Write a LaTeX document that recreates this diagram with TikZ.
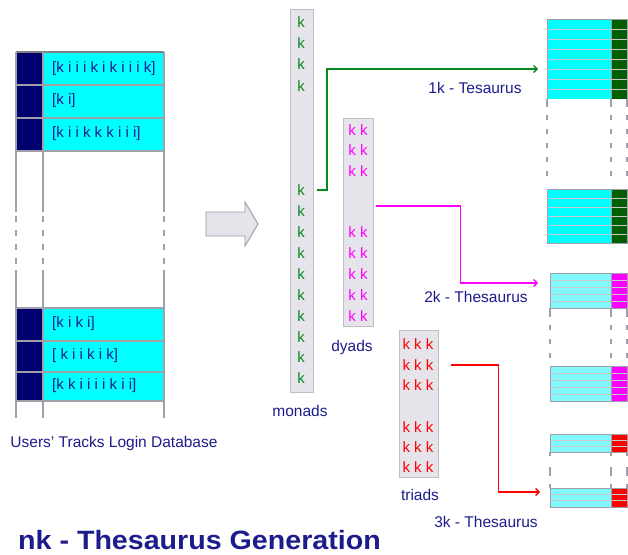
\documentclass[tikz,border=0pt]{standalone}
\usepackage{fontspec}
\setmainfont{Liberation Sans}
\usetikzlibrary{arrows.meta,calc}

\definecolor{ink}{RGB}{28,28,140}
\definecolor{navycol}{RGB}{0,0,110}
\definecolor{cyanfill}{RGB}{0,255,255}
\definecolor{palecyan}{RGB}{130,248,252}
\definecolor{gridgray}{RGB}{160,160,168}
\definecolor{rowgray}{RGB}{200,200,205}
\definecolor{colfill}{RGB}{228,228,234}
\definecolor{colline}{RGB}{190,190,196}
\definecolor{kgreen}{RGB}{10,135,30}
\definecolor{kmag}{RGB}{255,0,255}
\definecolor{kred}{RGB}{255,0,0}
\definecolor{tgreen}{RGB}{0,95,0}

\tikzset{
  lbl/.style={text=ink, font=\fontsize{15.5}{18}\selectfont, inner sep=0pt},
  rowtxt/.style={text=ink, font=\fontsize{15}{18}\selectfont, inner sep=0pt, anchor=west},
  kcol/.style={draw=colline, fill=colfill, inner sep=0pt, line width=0.8pt},
  ktxt/.style={font=\fontsize{15}{18}\selectfont, inner sep=0pt},
  conn/.style={line width=1.3pt, -{Straight Barb[length=3.5pt,width=7pt]}},
  gridline/.style={draw=gridgray, line width=1.1pt},
  gap/.style={draw=gridgray, line width=1.1pt, dash pattern=on 6pt off 8pt},
  rowline/.style={draw=rowgray, line width=0.9pt},
  blockedge/.style={draw=gridgray, line width=1pt},
}

\begin{document}
\begin{tikzpicture}[x=1pt,y=-1pt]
\useasboundingbox (0,0) rectangle (628,554);

% ---------- users' tracks login database ----------
\fill[navycol] (16,52) rectangle (43,151);
\fill[navycol] (16,308) rectangle (43,401);
\fill[cyanfill] (43,52) rectangle (164,151);
\fill[cyanfill] (43,308) rectangle (164,401);
\foreach \y in {52,85,118,151,308,341,372,401}
  \draw[gridline] (16,\y) -- (164,\y);
\draw[draw=gray, line width=1.4pt] (16,52) -- (164,52);
\foreach \x in {16,43,164} {
  \draw[gridline] (\x,52) -- (\x,212);
  \draw[gap] (\x,216) -- (\x,268);
  \draw[gridline] (\x,270) -- (\x,418);
}
\node[rowtxt] (r1) at (52,69)  {[k i i i k i k i i i k]};
\node[rowtxt] (r2) at (52,101) {[k i]};
\node[rowtxt] (r3) at (52,134) {[k i i k k k i i i]};
\node[rowtxt] (r4) at (52,324) {[k i k i]};
\node[rowtxt] (r5) at (52,356) {[ k i i k i k]};
\node[rowtxt] (r6) at (52,386) {[k k i i i i k i i]};
\node[lbl] (dblabel) at (114,443) {Users' Tracks Login Database};

% ---------- block arrow ----------
\draw[fill=colfill, draw=gray!80, line width=0.9pt]
  (206,212) -- (245,212) -- (245,202) -- (258,224) -- (245,246)
  -- (245,236) -- (206,236) -- cycle;

% ---------- monads ----------
\node[kcol, minimum width=23pt, minimum height=383pt] (monads) at (301.5,200.5) {};
\foreach \y [count=\i] in {22,43,64,86,190,211,232,253,274,295,316,337,357,378}
  \node[ktxt, text=kgreen] (m\i) at (301,\y) {k};
\node[lbl] (monlabel) at (300,411) {monads};

% ---------- dyads ----------
\node[kcol, minimum width=30pt, minimum height=208pt] (dyads) at (358,222) {};
\foreach \y [count=\i] in {130,150,171,232,253,274,295,316}
  \node[ktxt, text=kmag] (d\i) at (358,\y) {k k};
\node[lbl] (dylabel) at (352,347) {dyads};

% ---------- triads ----------
\node[kcol, minimum width=39pt, minimum height=147pt] (triads) at (418.5,403.5) {};
\foreach \y [count=\i] in {344,365,385,427,447,467}
  \node[ktxt, text=kred] (t\i) at (418,\y) {k k k};
\node[lbl] (trlabel) at (420,495) {triads};

% ---------- thesaurus tables ----------
% 1k
\fill[cyanfill] (547,19) rectangle (611,99);
\fill[tgreen] (611,19) rectangle (627,99);
\foreach \y in {29,39,...,89} \draw[rowline] (547,\y) -- (627,\y);
\draw[blockedge] (547,99) |- (627,19) -- (627,99);
\draw[blockedge] (611,19) -- (611,99);
\fill[cyanfill] (547,189) rectangle (611,243);
\fill[tgreen] (611,189) rectangle (627,243);
\foreach \y in {198,207,216,225,234} \draw[rowline] (547,\y) -- (627,\y);
\draw[blockedge] (547,189) -- (547,243) -- (627,243) -- (627,189) -- cycle;
\draw[blockedge] (611,189) -- (611,243);
\foreach \x in {547,611,627} {
  \draw[gridline] (\x,99) -- (\x,107);
  \draw[gap, dash pattern=on 5pt off 9pt] (\x,115) -- (\x,185);
}
% 2k
\fill[palecyan] (550,273) rectangle (611,308);
\fill[kmag] (611,273) rectangle (627,308);
\foreach \y in {280,287,294,301} \draw[rowline] (550,\y) -- (627,\y);
\draw[blockedge] (550,273) rectangle (627,308);
\draw[blockedge] (611,273) -- (611,308);
\fill[palecyan] (550,366) rectangle (611,401);
\fill[kmag] (611,366) rectangle (627,401);
\foreach \y in {373,380,387,394} \draw[rowline] (550,\y) -- (627,\y);
\draw[blockedge] (550,366) rectangle (627,401);
\draw[blockedge] (611,366) -- (611,401);
\foreach \x in {550,611,627} {
  \draw[gridline] (\x,308) -- (\x,317);
  \draw[gap, dash pattern=on 5pt off 9pt] (\x,325) -- (\x,362);
}
% 3k
\fill[palecyan] (550,434) rectangle (611,452);
\fill[kred] (611,434) rectangle (627,452);
\foreach \y in {440,446} \draw[rowline] (550,\y) -- (627,\y);
\draw[blockedge] (550,434) rectangle (627,452);
\draw[blockedge] (611,434) -- (611,452);
\fill[palecyan] (550,488) rectangle (611,507);
\fill[kred] (611,488) rectangle (627,507);
\foreach \y in {494,500} \draw[rowline] (550,\y) -- (627,\y);
\draw[blockedge] (550,488) rectangle (627,507);
\draw[blockedge] (611,488) -- (611,507);
\foreach \x in {550,611,627} {
  \draw[gridline] (\x,452) -- (\x,456);
  \draw[gridline] (\x,467) -- (\x,476);
  \draw[gridline] (\x,484) -- (\x,488);
}

\node[lbl] (l1k) at (475,88)  {1k - Tesaurus};
\node[lbl] (l2k) at (476,297) {2k - Thesaurus};
\node[lbl] (l3k) at (486,522) {3k - Thesaurus};

% ---------- connectors ----------
\coordinate (g0) at ($(m5.east)+(12,0)$);
\coordinate (g1) at (538,69);
\coordinate (p0) at ($(dyads.east)+(3,-16)$);
\coordinate (p1) at (538,283);
\coordinate (q0) at ($(t2.east)+(17,0)$);
\coordinate (q1) at (540,492);
\draw[conn, kgreen] (g0) -- ++(10,0) |- (g1);
\draw[conn, kmag] (p0) -- ++(84,0) |- (p1);
\draw[conn, kred] (q0) -- ++(48,0) |- (q1);

% ---------- title ----------
\node[text=ink, font=\bfseries\fontsize{26.5}{30}\selectfont, inner sep=0pt, anchor=west]
  (title) at (18,540) {\scalebox{1.08}[1]{nk - Thesaurus Generation}};
\end{tikzpicture}
\end{document}
